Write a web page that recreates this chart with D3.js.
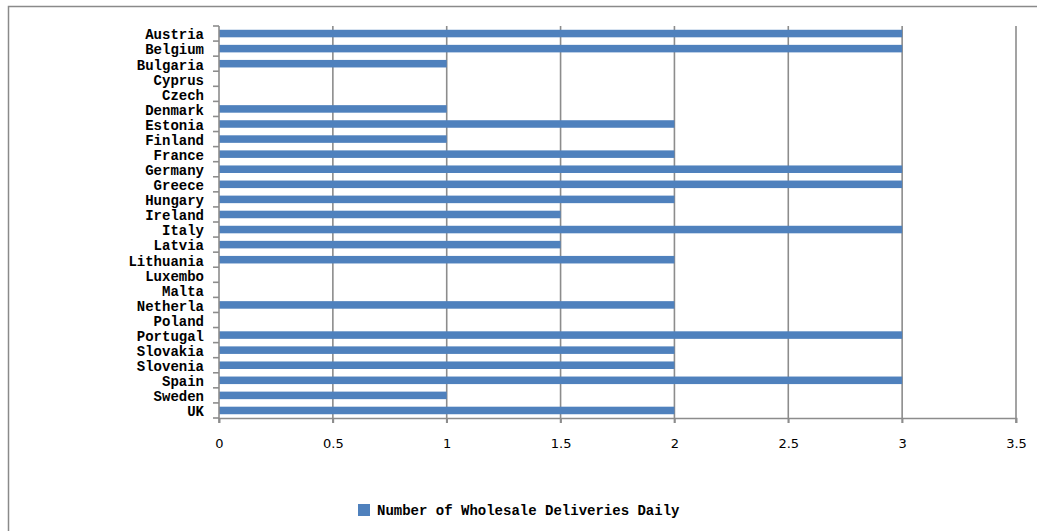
<!DOCTYPE html>
<html>
<head>
<meta charset="utf-8">
<script src="https://cdn.jsdelivr.net/npm/d3@7"></script>
<style>
  html, body { margin: 0; padding: 0; background: #fff; overflow: hidden; }
  svg { display: block; }
</style>
</head>
<body>
<div id="chart"></div>
<script>
const categories = ["Austria","Belgium","Bulgaria","Cyprus","Czech","Denmark","Estonia","Finland","France","Germany","Greece","Hungary","Ireland","Italy","Latvia","Lithuania","Luxembo","Malta","Netherla","Poland","Portugal","Slovakia","Slovenia","Spain","Sweden","UK"];
const deliveries = [3,3,1,0,0,1,2,1,2,3,3,2,1.5,3,1.5,2,0,0,2,0,3,2,2,3,1,2];
const xTicks = [0,0.5,1,1.5,2,2.5,3,3.5];
const seriesName = "Number of Wholesale Deliveries Daily";

(function () {
const W = 1037, H = 531;
const svg = d3.select("#chart").append("svg").attr("width", W).attr("height", H);

// outer border (only top and left edges are inside the picture)
svg.append("path").attr("d", `M8.5,${H} V6.5 H${W}`)
  .attr("fill", "none").attr("stroke", "#8a8a8a").attr("stroke-width", 1.5);

const pL = 219, pR = 1016, pT = 26, pB = 418;
const x = d3.scaleLinear().domain([0, 3.5]).range([pL, pR]);
const y = d3.scaleBand().domain(categories).range([pT, pB]).paddingInner(0.5).paddingOuter(0.25);

// gridlines
svg.append("g").selectAll("line").data(xTicks.slice(1)).join("line")
  .attr("x1", d => x(d)).attr("x2", d => x(d))
  .attr("y1", pT).attr("y2", pB + 5)
  .attr("stroke", "#8c8c8c").attr("stroke-width", 1.6);

// bars
svg.append("g").selectAll("rect").data(categories).join("rect")
  .attr("x", x(0))
  .attr("y", d => y(d))
  .attr("width", (d, i) => x(deliveries[i]) - x(0))
  .attr("height", y.bandwidth())
  .attr("fill", "#4f81bd");

// x axis
const xAxis = d3.axisBottom(x).tickValues(xTicks).tickSize(5).tickPadding(16)
  .tickFormat(d => String(d));
const gx = svg.append("g").attr("transform", `translate(0,${pB})`).call(xAxis);
gx.select(".domain").attr("stroke", "#8c8c8c").attr("stroke-width", 1.6);
gx.selectAll(".tick line").attr("stroke", "#8c8c8c").attr("stroke-width", 1.6);
gx.selectAll(".tick text").attr("font-family", "'DejaVu Sans', Verdana, sans-serif")
  .attr("font-size", 13).attr("fill", "#000");

// y axis: ticks at band boundaries
const yb = d3.scaleLinear().domain([0, categories.length]).range([pT, pB]);
const gy = svg.append("g");
gy.append("line").attr("x1", pL).attr("x2", pL).attr("y1", pT).attr("y2", pB + 5)
  .attr("stroke", "#8c8c8c").attr("stroke-width", 1.6);
gy.selectAll("line.tk").data(d3.range(categories.length + 1)).join("line").attr("class", "tk")
  .attr("x1", pL - 6).attr("x2", pL).attr("y1", d => yb(d)).attr("y2", d => yb(d))
  .attr("stroke", "#8c8c8c").attr("stroke-width", 1.6);
gy.selectAll("text").data(categories).join("text")
  .attr("x", 204)
  .attr("y", d => y(d) + y.bandwidth() / 2)
  .attr("dy", "0.42em")
  .attr("text-anchor", "end")
  .attr("font-family", "'Liberation Mono', 'Courier New', monospace")
  .attr("font-weight", "bold")
  .attr("font-size", 14)
  .attr("fill", "#000")
  .text(d => d);

// legend
const lg = svg.append("g");
lg.append("rect").attr("x", 358).attr("y", 504).attr("width", 12).attr("height", 12).attr("fill", "#4f81bd");
lg.append("text").attr("x", 377).attr("y", 510).attr("dy", "0.38em")
  .attr("font-family", "'Liberation Mono', 'Courier New', monospace")
  .attr("font-weight", "bold").attr("font-size", 14).attr("fill", "#000")
  .text(seriesName);
})();
</script>
</body>
</html>
